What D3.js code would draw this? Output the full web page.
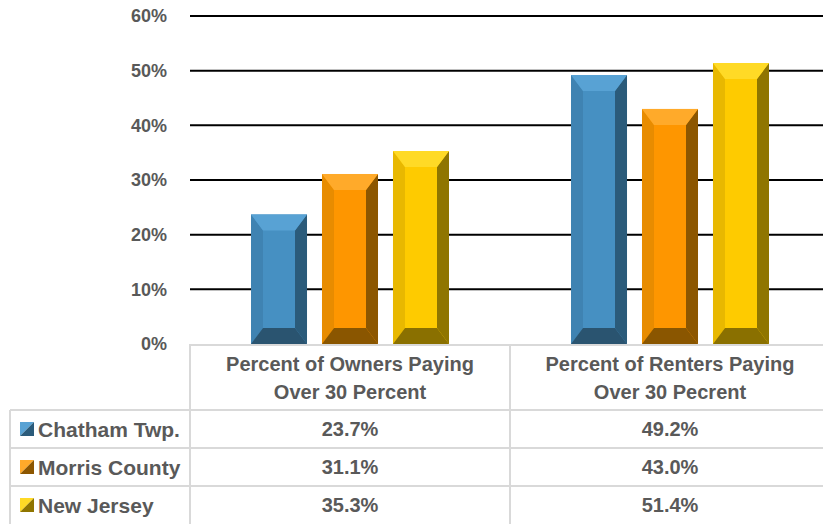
<!DOCTYPE html>
<html>
<head>
<meta charset="utf-8">
<style>
  body { margin: 0; background: #fff; }
  svg text { font-family: "Liberation Sans", sans-serif; font-weight: bold; fill: #595959; }
  .grid line { stroke: #000; stroke-width: 2; }
  .tbl line { stroke: #d9d9d9; stroke-width: 2; }
</style>
</head>
<body>
<svg id="chart" width="823" height="524"></svg>
<script src="https://d3js.org/d3.v7.min.js"></script>
<script>
// data
var categories = [
  ["Percent of Owners Paying", "Over 30 Percent"],
  ["Percent of Renters Paying", "Over 30 Pecrent"]
];
var seriesNames = ["Chatham Twp.", "Morris County", "New Jersey"];
var chatham = [23.7, 49.2];
var morris = [31.1, 43.0];
var newJersey = [35.3, 51.4];
var yTicks = [0, 10, 20, 30, 40, 50, 60];
var valueLabels = [["23.7%", "49.2%"], ["31.1%", "43.0%"], ["35.3%", "51.4%"]];

(function() {
var seriesValues = [chatham, morris, newJersey];
// face, top, left, right, bottom
var palettes = [
  ["#4690c2", "#58a2d4", "#3f83b2", "#2b5b7a", "#2a5470"],
  ["#fe9600", "#ffaa2a", "#e88c00", "#8c5600", "#8a5600"],
  ["#fecb00", "#ffda26", "#e8b800", "#8f7500", "#8a7000"]
];

var svg = d3.select("#chart");
var plotLeft = 190, plotRight = 830, plotTop = 16, plotBottom = 344;

var x0 = d3.scaleBand().domain([0, 1]).range([plotLeft, plotRight]);
var x1 = d3.scaleBand().domain([0, 1, 2]).range([61, 259]).paddingInner(0.211).paddingOuter(0);
var y = d3.scaleLinear().domain([0, 60]).range([plotBottom, plotTop]);

// gridlines
var grid = svg.append("g").attr("class", "grid");
grid.selectAll("line").data(yTicks.filter(function(t) { return t > 0; })).enter().append("line")
  .attr("x1", plotLeft).attr("x2", plotRight)
  .attr("y1", function(d) { return y(d); }).attr("y2", function(d) { return y(d); });

// y labels
svg.append("g").selectAll("text").data(yTicks).enter().append("text")
  .attr("x", 167).attr("y", function(d) { return y(d); })
  .attr("dy", "0.35em").attr("text-anchor", "end")
  .style("font-size", "18px")
  .text(function(d) { return d + "%"; });

// bevelled bars
function bevel(g, bx, by, bw, bh, pal) {
  var sx = 12, sy = 16;
  if (bh < 2 * sy) sy = bh / 2;
  var xr = bx + bw, yb = by + bh;
  var ix = bx + sx, ixr = xr - sx, iy = by + sy, iyb = yb - sy;
  g.append("rect").attr("x", bx).attr("y", by).attr("width", bw).attr("height", bh).attr("fill", pal[0]);
  g.append("polygon").attr("fill", pal[2]).attr("points", [[bx, by], [ix, iy], [ix, iyb], [bx, yb]].join(" "));
  g.append("polygon").attr("fill", pal[3]).attr("points", [[xr, by], [ixr, iy], [ixr, iyb], [xr, yb]].join(" "));
  g.append("polygon").attr("fill", pal[4]).attr("points", [[bx, yb], [ix, iyb], [ixr, iyb], [xr, yb]].join(" "));
  g.append("polygon").attr("fill", pal[1]).attr("points", [[bx, by], [ix, iy], [ixr, iy], [xr, by]].join(" "));
}

var bars = svg.append("g");
seriesValues.forEach(function(vals, s) {
  vals.forEach(function(v, c) {
    var bx = x0(c) + x1(s);
    bevel(bars, bx, y(v), x1.bandwidth(), y(0) - y(v), palettes[s]);
  });
});

// table
var rowTop = 410, rowH = 38, tblLeft = 10;
var tbl = svg.append("g").attr("class", "tbl");
tbl.append("line").attr("x1", plotLeft).attr("x2", plotRight).attr("y1", plotBottom + 1).attr("y2", plotBottom + 1);
[0, 1, 2].forEach(function(i) {
  tbl.append("line").attr("x1", tblLeft).attr("x2", plotRight)
    .attr("y1", rowTop + i * rowH).attr("y2", rowTop + i * rowH);
});
tbl.append("line").attr("x1", tblLeft).attr("x2", tblLeft).attr("y1", rowTop).attr("y2", 524);
[plotLeft, x0(1)].forEach(function(vx) {
  tbl.append("line").attr("x1", vx).attr("x2", vx).attr("y1", plotBottom).attr("y2", 524);
});

// header text
categories.forEach(function(lines, c) {
  var t = svg.append("text").attr("text-anchor", "middle").style("font-size", "20px");
  lines.forEach(function(l, i) {
    t.append("tspan").attr("x", x0(c) + x0.bandwidth() / 2 - 160 + 160).attr("y", 371 + i * 28).text(l);
  });
});

// rows
seriesNames.forEach(function(name, s) {
  var cy = rowTop + s * rowH + rowH / 2;
  var pal = palettes[s];
  svg.append("polygon").attr("fill", pal[1]).attr("points", [[20, cy - 7], [34, cy - 7], [20, cy + 7]].join(" "));
  svg.append("polygon").attr("fill", pal[3]).attr("points", [[34, cy - 7], [34, cy + 7], [20, cy + 7]].join(" "));
  svg.append("text").attr("x", 38).attr("y", cy).attr("dy", "0.36em")
    .style("font-size", "21px").text(name);
  valueLabels[s].forEach(function(lab, c) {
    svg.append("text").attr("x", x0(c) + x0.bandwidth() / 2).attr("y", cy).attr("dy", "0.36em")
      .attr("text-anchor", "middle").style("font-size", "20px").text(lab);
  });
});
})();
</script>
</body>
</html>
